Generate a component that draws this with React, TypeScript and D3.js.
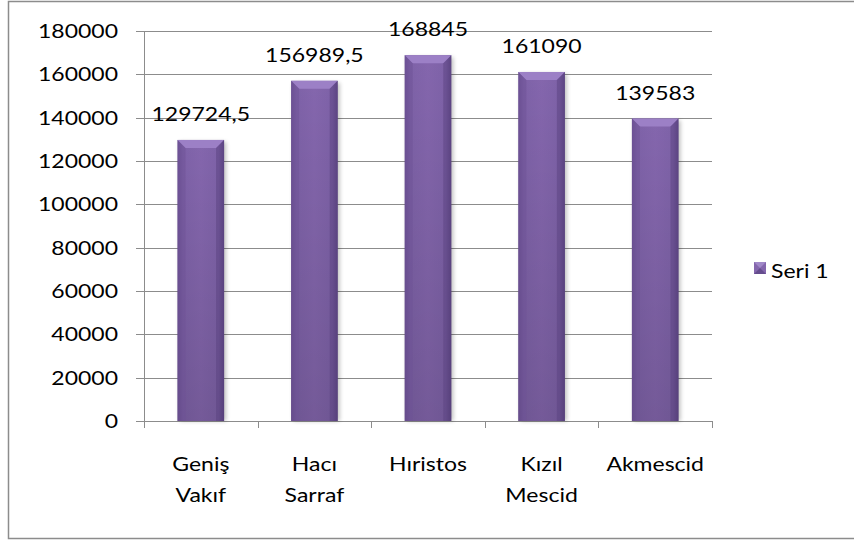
import React, { useEffect, useRef } from "react";
import * as d3 from "d3";

const categories = [["Geniş", "Vakıf"], ["Hacı", "Sarraf"], ["Hıristos"], ["Kızıl", "Mescid"], ["Akmescid"]];
const values = [129724.5, 156989.5, 168845, 161090, 139583];
const valueLabels = ["129724,5", "156989,5", "168845", "161090", "139583"];
const yTicks = [0, 20000, 40000, 60000, 80000, 100000, 120000, 140000, 160000, 180000];
const seriesName = "Seri 1";

const FONT = "Lato, 'Noto Sans', sans-serif";
const FS = 20;
const SX = 1.15; // reference text is slightly wide

const App = () => {
  const ref = useRef<SVGSVGElement | null>(null);

  useEffect(() => {
    const svg = d3.select(ref.current);
    svg.selectAll("*").remove();

    const left = 144, right = 712, top = 31, bottom = 421;
    const keys = categories.map((c) => c.join(" "));
    const x = d3.scaleBand().domain(keys).range([left, right]).paddingInner(0.59).paddingOuter(0.295);
    const y = d3.scaleLinear().domain([0, 180000]).range([bottom, top]);

    // helper for wide text
    const label = (g: any, tx: number, ty: number, str: string, anchor: string) =>
      g.append("text")
        .attr("transform", `translate(${tx},${ty}) scale(${SX},1)`)
        .attr("text-anchor", anchor)
        .attr("font-family", FONT).attr("font-size", FS).attr("fill", "#000")
        .text(str);

    const defs = svg.append("defs");
    const grad = defs.append("linearGradient").attr("id", "barGrad").attr("x1", 0).attr("x2", 1);
    grad.append("stop").attr("offset", "0%").attr("stop-color", "#6a4f93");
    grad.append("stop").attr("offset", "12%").attr("stop-color", "#7e62a8");
    grad.append("stop").attr("offset", "50%").attr("stop-color", "#8466ad");
    grad.append("stop").attr("offset", "88%").attr("stop-color", "#7e62a8");
    grad.append("stop").attr("offset", "100%").attr("stop-color", "#5f4786");
    const vgrad = defs.append("linearGradient").attr("id", "barShade").attr("x1", 0).attr("x2", 0).attr("y1", 0).attr("y2", 1);
    vgrad.append("stop").attr("offset", "0%").attr("stop-color", "#000").attr("stop-opacity", 0);
    vgrad.append("stop").attr("offset", "100%").attr("stop-color", "#000").attr("stop-opacity", 0.12);
    const blur = defs.append("filter").attr("id", "shadow").attr("x", "-20%").attr("y", "-5%").attr("width", "140%").attr("height", "110%");
    blur.append("feGaussianBlur").attr("stdDeviation", 2);

    // outer border (right edge runs off the picture)
    svg.append("rect").attr("x", 8.5).attr("y", 1.5).attr("width", 860).attr("height", 537)
      .attr("fill", "#fff").attr("stroke", "#8c8c8c").attr("stroke-width", 1.5);

    // gridlines
    const grid = svg.append("g");
    grid.selectAll("line").data(yTicks).enter().append("line")
      .attr("x1", left - 8).attr("x2", right)
      .attr("y1", (d) => Math.round(y(d)) + 0.5).attr("y2", (d) => Math.round(y(d)) + 0.5)
      .attr("stroke", "#8c8c8c").attr("stroke-width", 1);

    // y axis line
    svg.append("line").attr("x1", left + 0.5).attr("x2", left + 0.5).attr("y1", top).attr("y2", bottom)
      .attr("stroke", "#8c8c8c");

    // x ticks
    const tickXs = [left, ...keys.map((k) => (x(k) as number) + x.bandwidth() / 2 + x.step() / 2)];
    svg.append("g").selectAll("line").data(tickXs).enter().append("line")
      .attr("x1", (d) => Math.round(d) + 0.5).attr("x2", (d) => Math.round(d) + 0.5)
      .attr("y1", bottom).attr("y2", bottom + 7).attr("stroke", "#8c8c8c");

    // y labels
    const yl = svg.append("g");
    yTicks.forEach((d) => label(yl, 118, y(d) + 7, String(d), "end"));

    // bars
    const bars = svg.append("g");
    values.forEach((v, i) => {
      const bx = x(keys[i]) as number;
      const bw = x.bandwidth();
      const by = y(v);
      const bh = bottom - by;
      bars.append("rect").attr("x", bx + 2).attr("y", by + 2).attr("width", bw).attr("height", bh - 2)
        .attr("fill", "#000").attr("opacity", 0.25).attr("filter", "url(#shadow)");
      bars.append("rect").attr("x", bx).attr("y", by).attr("width", bw).attr("height", bh).attr("fill", "url(#barGrad)");
      bars.append("rect").attr("x", bx).attr("y", by).attr("width", bw).attr("height", bh).attr("fill", "url(#barShade)");
      const b = 8;
      bars.append("polygon")
        .attr("points", `${bx},${by} ${bx + bw},${by} ${bx + bw - b},${by + b} ${bx + b},${by + b}`)
        .attr("fill", "#9c80c6");
      bars.append("polygon")
        .attr("points", `${bx},${by} ${bx + b},${by + b} ${bx + b},${bottom} ${bx},${bottom}`)
        .attr("fill", "#6d5296").attr("opacity", 0.5);
      bars.append("polygon")
        .attr("points", `${bx + bw},${by} ${bx + bw - b},${by + b} ${bx + bw - b},${bottom} ${bx + bw},${bottom}`)
        .attr("fill", "#5a4280").attr("opacity", 0.5);
    });

    // value labels
    const vl = svg.append("g");
    values.forEach((v, i) => {
      label(vl, (x(keys[i]) as number) + x.bandwidth() / 2, y(v) - 19, valueLabels[i], "middle");
    });

    // category labels
    const cat = svg.append("g");
    categories.forEach((lines, i) => {
      const cx = (x(keys[i]) as number) + x.bandwidth() / 2;
      lines.forEach((ln, j) => label(cat, cx, 471 + j * 31, ln, "middle"));
    });

    // legend
    const lg = svg.append("g");
    const lx = 754, ly = 262, ls = 12;
    lg.append("rect").attr("x", lx).attr("y", ly).attr("width", ls).attr("height", ls).attr("fill", "#8466ad");
    lg.append("polygon").attr("points", `${lx},${ly} ${lx + ls},${ly} ${lx + ls / 2},${ly + ls / 2}`).attr("fill", "#a088c8");
    lg.append("polygon").attr("points", `${lx},${ly + ls} ${lx + ls},${ly + ls} ${lx + ls / 2},${ly + ls / 2}`).attr("fill", "#654c8e");
    label(lg, 771, 278, seriesName, "start");
  }, []);

  return (
    <svg ref={ref} width={854} height={542} style={{ display: "block", position: "absolute", left: 0, top: 0 }} />
  );
};

export default App;
